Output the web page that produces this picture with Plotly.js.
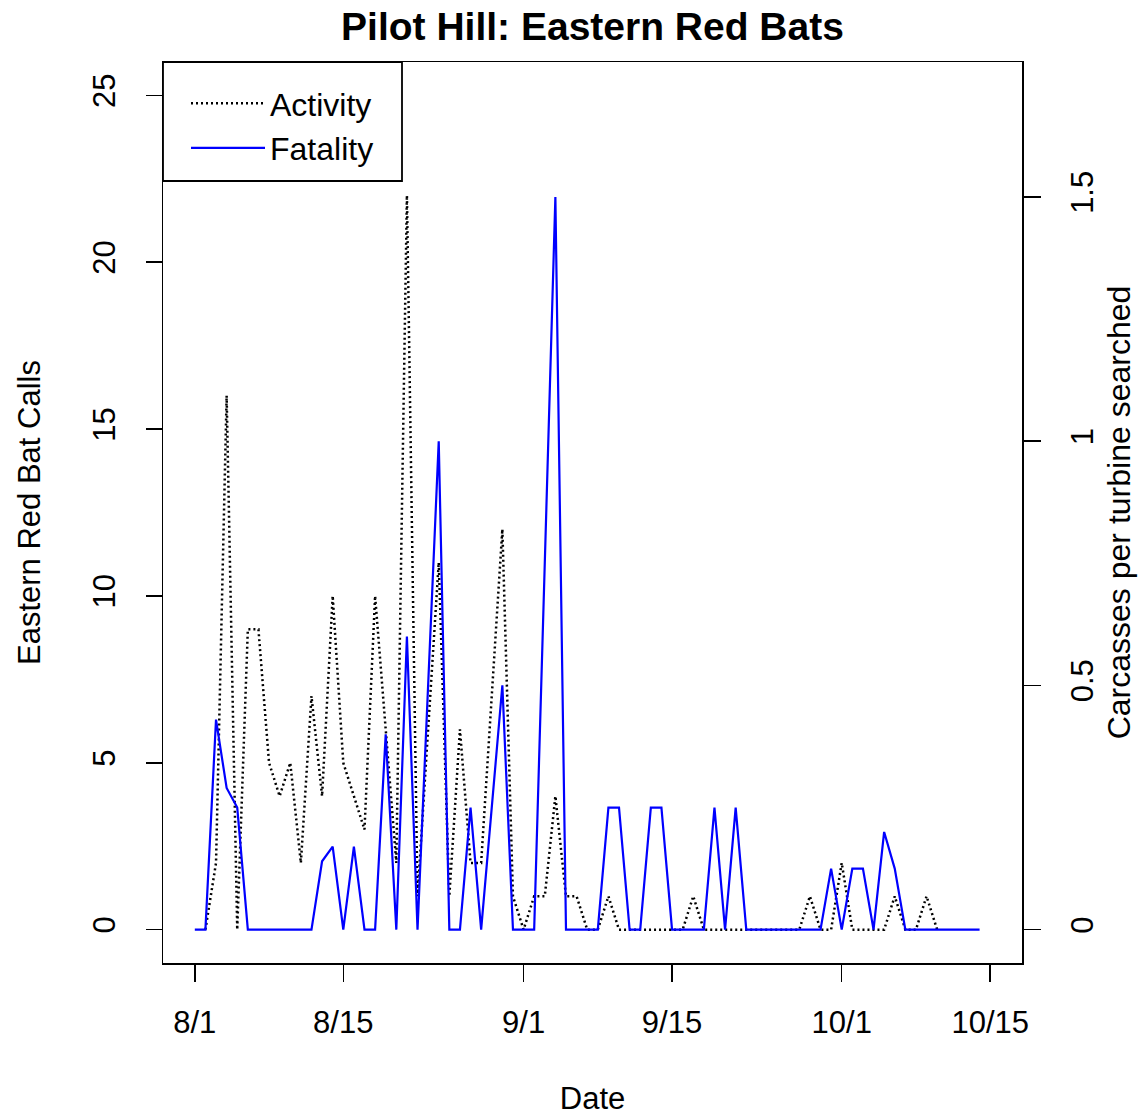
<!DOCTYPE html>
<html>
<head>
<meta charset="utf-8">
<script src="https://cdn.plot.ly/plotly-3.0.1.min.js"></script>
<style>html,body{margin:0;padding:0;background:#fff}</style>
</head>
<body>
<div id="chart" style="width:1143px;height:1116px"></div>
<script>
// Nightly dates, 1 Aug – 14 Oct
const dates = [
  "8/1","8/2","8/3","8/4","8/5","8/6","8/7","8/8","8/9","8/10",
  "8/11","8/12","8/13","8/14","8/15","8/16","8/17","8/18","8/19","8/20",
  "8/21","8/22","8/23","8/24","8/25","8/26","8/27","8/28","8/29","8/30","8/31",
  "9/1","9/2","9/3","9/4","9/5","9/6","9/7","9/8","9/9","9/10",
  "9/11","9/12","9/13","9/14","9/15","9/16","9/17","9/18","9/19","9/20",
  "9/21","9/22","9/23","9/24","9/25","9/26","9/27","9/28","9/29","9/30",
  "10/1","10/2","10/3","10/4","10/5","10/6","10/7","10/8","10/9","10/10",
  "10/11","10/12","10/13","10/14"
];

// Eastern red bat calls recorded per night (null = no recording)
const activity = [
  null, 0, 2, 16, 0, 9, 9, 5, 4, 5,
  2, 7, 4, 10, 5, 4, 3, 10, 6, 2,
  22, 1, 6, 11, 1, 6, 2, 2, 7, 12, 1,
  0, 1, 1, 4, 1, 1, 0, 0, 1, 0,
  0, 0, 0, 0, 0, 0, 1, 0, 0, 0,
  0, 0, 0, 0, 0, 0, 0, 1, 0, 0,
  2, 0, 0, 0, 0, 1, 0, 0, 1, 0,
  null, null, null, null
];

// Carcasses found per turbine searched (null = no search that day)
const fatality = [
  0, 0, 0.43, 0.29, 0.25, 0, 0, 0, 0, 0,
  0, 0, 0.14, 0.17, 0, 0.17, 0, 0, 0.4, 0,
  0.6, 0, null, 1, 0, 0, 0.25, 0, null, 0.5, 0,
  0, 0, null, 1.5, 0, 0, 0, 0, 0.25, 0.25,
  0, 0, 0.25, 0.25, 0, 0, 0, 0, 0.25, 0,
  0.25, 0, 0, 0, 0, 0, 0, 0, 0, 0.125,
  0, 0.125, 0.125, 0, 0.2, 0.125, 0, 0, 0, 0,
  0, 0, 0, 0
];

const tickDates = ["8/1", "8/15", "9/1", "9/15", "10/1", "10/15"];
const callTicks = [0, 5, 10, 15, 20, 25];
const carcassTicks = [0, 0.5, 1, 1.5];
const carcassLabels = ["0", "0.5", "1", "1.5"];

// days elapsed since 1 August
const monthStart = {8: 0, 9: 31, 10: 61};
function dayOf(md) {
  const [m, d] = md.split("/").map(Number);
  return monthStart[m] + d - 1;
}
const x = dates.map(dayOf);

const FONT = "Liberation Sans, Arial, Helvetica, sans-serif";

// plot-area geometry (px) used to place the legend frame
const W = 1143, H = 1116;
const M = {l: 163, r: 121, t: 62, b: 153};
const plotW = W - M.l - M.r, plotH = H - M.t - M.b;
const px2x = p => (p - M.l) / plotW;
const px2y = p => 1 - (p - M.t) / plotH;

const traces = [
  {
    x: x, y: activity, type: "scatter", mode: "lines", name: "Activity",
    line: {color: "#000000", width: 2.5, dash: "2px,3px"},
    yaxis: "y", hoverinfo: "skip"
  },
  {
    x: x, y: fatality, type: "scatter", mode: "lines", name: "Fatality",
    line: {color: "#0000ff", width: 2.2}, connectgaps: true,
    yaxis: "y2", hoverinfo: "skip"
  }
];

const layout = {
  width: W, height: H,
  margin: {l: M.l, r: M.r, t: M.t, b: M.b, pad: 0},
  paper_bgcolor: "#ffffff", plot_bgcolor: "#ffffff",
  font: {family: FONT, size: 31, color: "#000"},
  showlegend: true,
  title: {
    text: "<b>Pilot Hill: Eastern Red Bats</b>",
    font: {family: FONT, size: 39, color: "#000"},
    x: 0.5, xref: "paper", xanchor: "center",
    y: 1 - 26 / H, yref: "container", yanchor: "middle"
  },
  xaxis: {
    range: [-3, 78], showgrid: false, zeroline: false,
    showline: true, mirror: true, linecolor: "#000", linewidth: 1.5,
    ticks: "outside", ticklen: 17, tickwidth: 1.5, tickcolor: "#000",
    tickvals: tickDates.map(dayOf), ticktext: tickDates,
    tickfont: {family: FONT, size: 31},
    ticklabelstandoff: 14,
    title: {text: "Date", font: {family: FONT, size: 31}, standoff: 54}
  },
  yaxis: {
    range: [-1, 26], showgrid: false, zeroline: false,
    showline: true, mirror: true, linecolor: "#000", linewidth: 1.5,
    ticks: "outside", ticklen: 16, tickwidth: 1.5, tickcolor: "#000",
    tickvals: callTicks, tickangle: -90,
    tickfont: {family: FONT, size: 31},
    ticklabelstandoff: 18,
    title: {text: "Eastern Red Bat Calls", font: {family: FONT, size: 31}, standoff: 37}
  },
  yaxis2: {
    overlaying: "y", side: "right",
    range: [-0.0683, 1.7763], showgrid: false, zeroline: false, showline: false,
    ticks: "outside", ticklen: 18, tickwidth: 1.5, tickcolor: "#000",
    tickvals: carcassTicks, ticktext: carcassLabels, tickangle: -90,
    tickfont: {family: FONT, size: 31},
    ticklabelstandoff: 15,
    title: {text: "Carcasses per turbine searched", font: {family: FONT, size: 32}, standoff: 8}
  },
  // legend frame
  shapes: [{
    type: "rect", xref: "paper", yref: "paper", layer: "above",
    x0: px2x(M.l), x1: px2x(402), y0: px2y(181), y1: px2y(M.t),
    line: {color: "#000", width: 1.8}, fillcolor: "rgba(0,0,0,0)"
  }],
  legend: {
    x: px2x(186), y: px2y(76), xref: "paper", yref: "paper",
    xanchor: "left", yanchor: "top",
    bgcolor: "rgba(0,0,0,0)", borderwidth: 0,
    font: {family: FONT, size: 32}, itemwidth: 74,
    tracegroupgap: 0
  }
};

Plotly.newPlot("chart", traces, layout, {staticPlot: true, displayModeBar: false});
</script>
</body>
</html>
